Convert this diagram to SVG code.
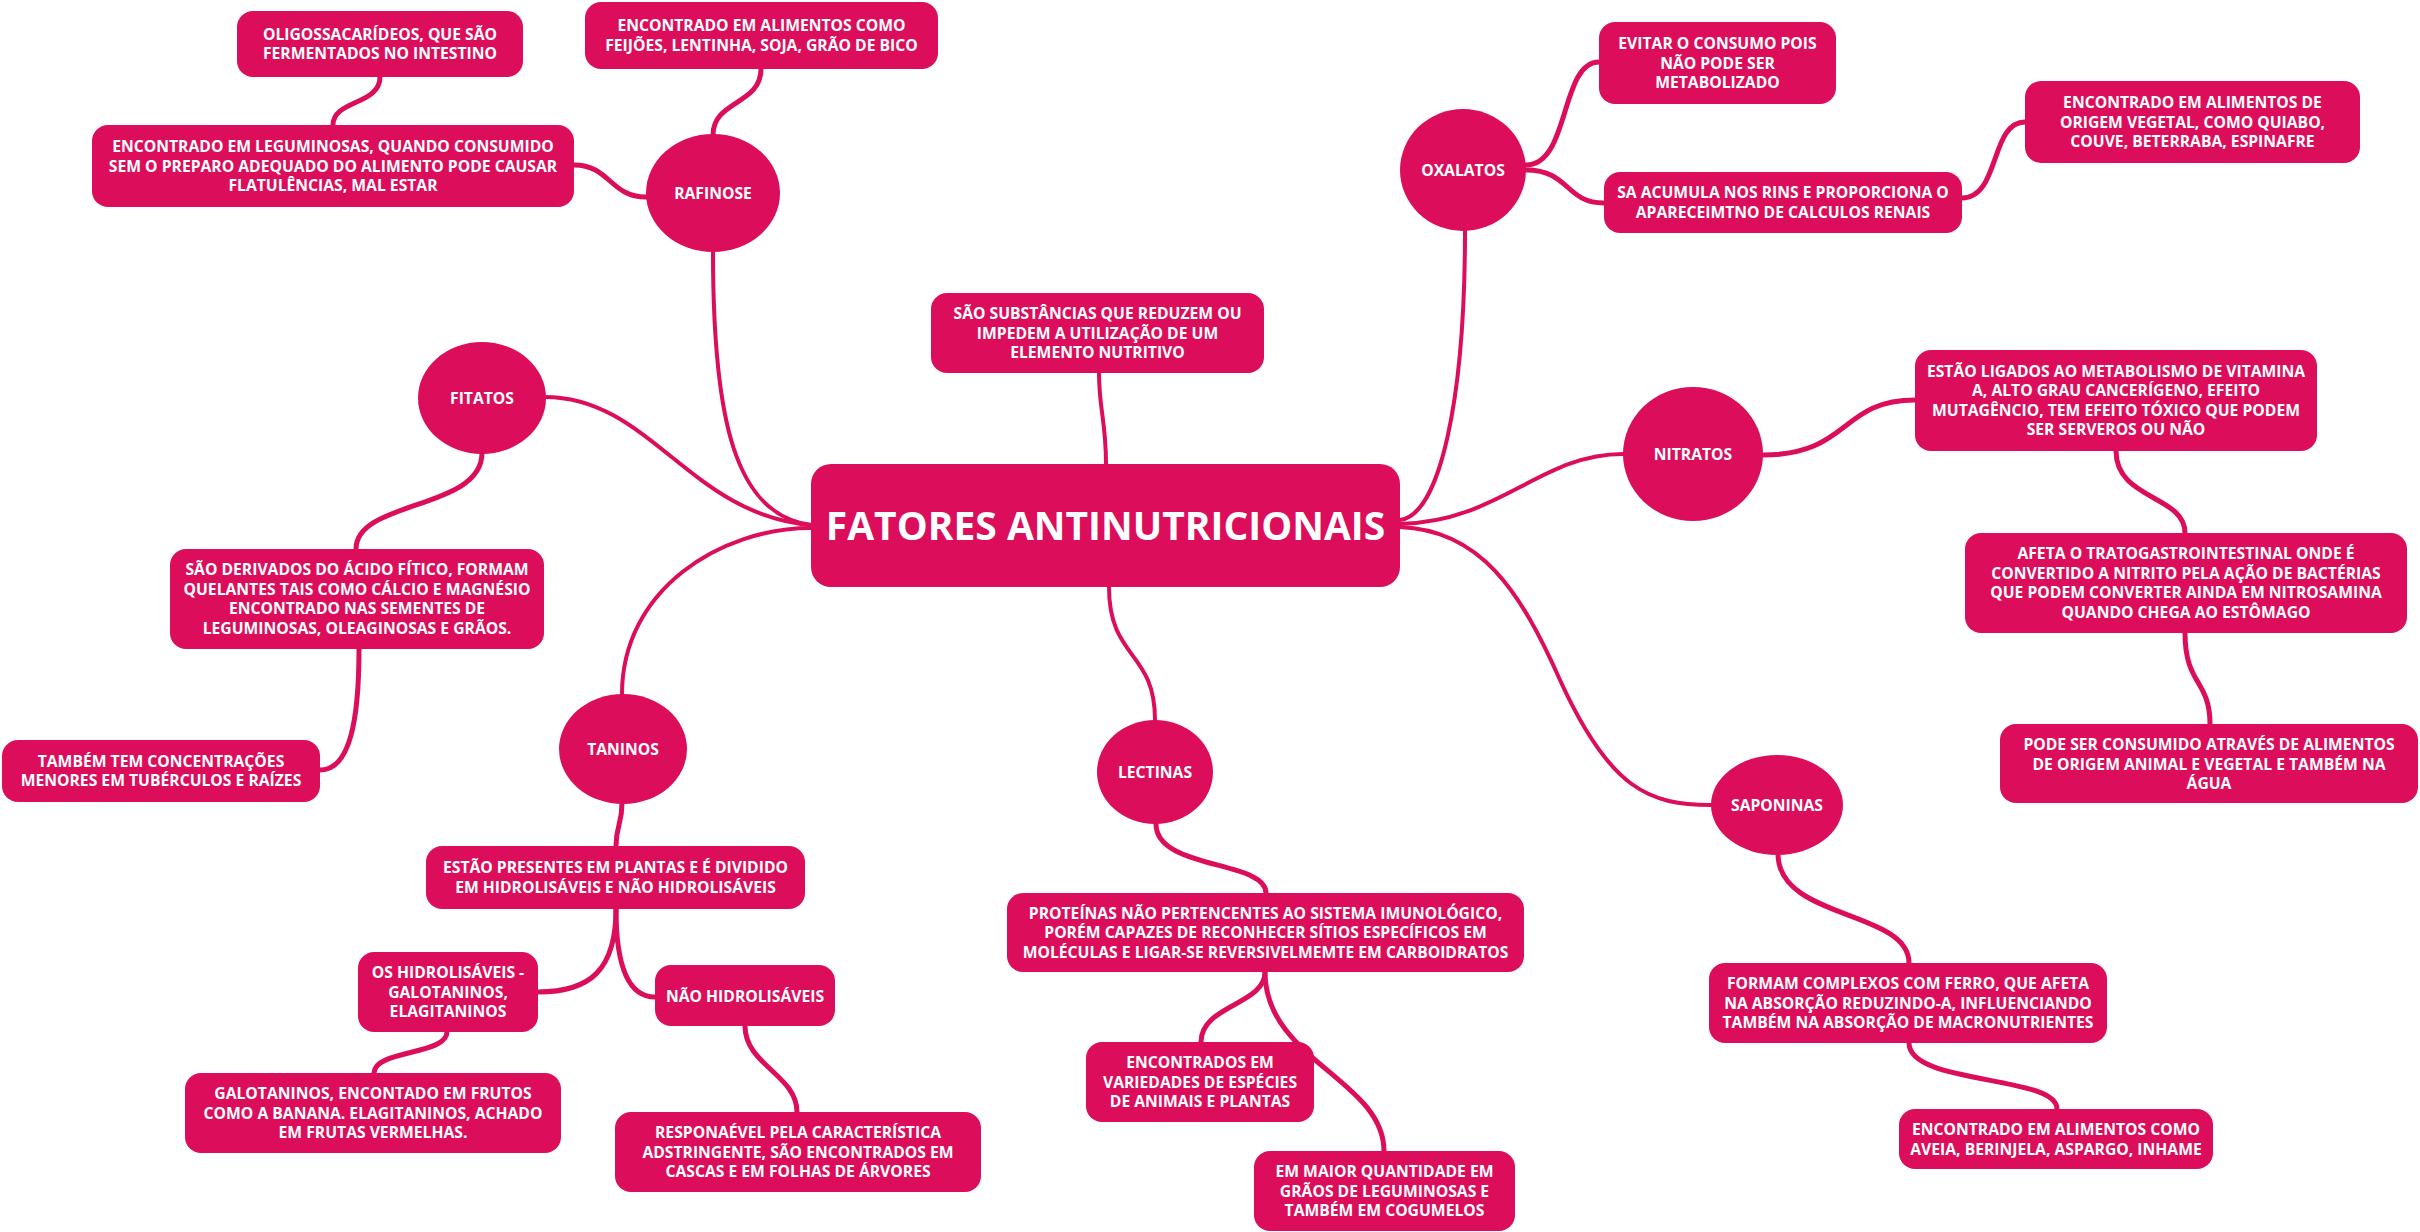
<svg xmlns="http://www.w3.org/2000/svg" width="2420" height="1232" viewBox="0 0 2420 1232">
<style>
.b{fill:#DC0D5A}
.t{fill:#fff;font-family:"Open Sans","Noto Sans","Liberation Sans",sans-serif;font-weight:bold;font-size:15.7px;text-anchor:middle}
.c{fill:none;stroke:#DC0D5A;stroke-linecap:round}
.m{stroke-width:4}
.s{stroke-width:5}
</style>
<rect width="2420" height="1232" fill="#fff"/>
<g id="connectors">
<path class="c m" d="M713 252 C713 420 735 515 811 525"/>
<path class="c m" d="M545 397 C650 397 690 515 811 525"/>
<path class="c m" d="M622 694 C622 590 720 528 811 528"/>
<path class="c m" d="M1106 464 C1106 420 1099 410 1099 373"/>
<path class="c m" d="M1109 587 C1109 660 1155 650 1155 720"/>
<path class="c m" d="M1465 231 C1465 400 1440 515 1400 520"/>
<path class="c m" d="M1623 454 C1540 454 1500 522 1400 524"/>
<path class="c m" d="M1400 527 C1480 530 1520 590 1560 680 C1610 790 1650 805 1711 805"/>
<path class="c s" d="M380 77 C380 105 333 100 333 125"/>
<path class="c s" d="M761 69 C761 105 713 100 713 135"/>
<path class="c s" d="M574 165 C610 165 610 197 646 197"/>
<path class="c s" d="M482 453 C482 510 356 500 356 549"/>
<path class="c s" d="M359 649 C359 720 350 770 320 770"/>
<path class="c s" d="M622 803 C622 825 616 825 616 846"/>
<path class="c s" d="M616 909 C616 970 590 992 538 992"/>
<path class="c s" d="M616 909 C616 970 630 997 655 997"/>
<path class="c s" d="M447 1032 C447 1055 374 1050 374 1073"/>
<path class="c s" d="M745 1026 C745 1065 797 1075 797 1112"/>
<path class="c s" d="M1156 824 C1156 870 1266 860 1266 893"/>
<path class="c s" d="M1265 972 C1265 1005 1201 1005 1201 1042"/>
<path class="c s" d="M1265 972 C1265 1060 1384 1080 1384 1151"/>
<path class="c s" d="M1526 165 C1570 165 1560 62 1599 62"/>
<path class="c s" d="M1526 170 C1570 170 1565 203 1604 203"/>
<path class="c s" d="M1962 198 C2000 198 1990 122 2025 122"/>
<path class="c s" d="M1763 455 C1850 455 1840 400 1915 400"/>
<path class="c s" d="M2116 451 C2116 500 2185 495 2185 533"/>
<path class="c s" d="M2185 633 C2185 685 2210 680 2210 724"/>
<path class="c s" d="M1778 854 C1778 920 1909 910 1909 963"/>
<path class="c s" d="M1909 1043 C1909 1085 2057 1075 2057 1109"/>
</g>
<g id="center"><rect class="b" x="811" y="464" width="589" height="123" rx="20"/><text class="t" style="font-size:39px" x="1105.5" y="540">FATORES ANTINUTRICIONAIS</text></g>
<g id="rafinose"><ellipse class="b" cx="713" cy="193" rx="67" ry="59"/><text class="t" x="713" y="198.5">RAFINOSE</text></g>
<g id="fitatos"><ellipse class="b" cx="482" cy="398" rx="64" ry="56"/><text class="t" x="482" y="403.5">FITATOS</text></g>
<g id="taninos"><ellipse class="b" cx="623" cy="749" rx="64" ry="55"/><text class="t" x="623" y="754.5">TANINOS</text></g>
<g id="lectinas"><ellipse class="b" cx="1155" cy="772" rx="58" ry="52"/><text class="t" x="1155" y="777.5">LECTINAS</text></g>
<g id="oxalatos"><ellipse class="b" cx="1463" cy="170" rx="63" ry="61"/><text class="t" x="1463" y="175.5">OXALATOS</text></g>
<g id="nitratos"><ellipse class="b" cx="1693" cy="454" rx="70" ry="67"/><text class="t" x="1693" y="459.5">NITRATOS</text></g>
<g id="saponinas"><ellipse class="b" cx="1777" cy="805" rx="66" ry="50"/><text class="t" x="1777" y="810.5">SAPONINAS</text></g>
<g id="oligo"><rect class="b" x="237" y="11" width="286" height="66" rx="16"/><text class="t" y="39.75"><tspan x="380">OLIGOSSACARÍDEOS, QUE SÃO</tspan><tspan x="380" dy="19.5">FERMENTADOS NO INTESTINO</tspan></text></g>
<g id="raf-alimentos"><rect class="b" x="585" y="2" width="353" height="67" rx="16"/><text class="t" y="31.25"><tspan x="761.5">ENCONTRADO EM ALIMENTOS COMO</tspan><tspan x="761.5" dy="19.5">FEIJÕES, LENTINHA, SOJA, GRÃO DE BICO</tspan></text></g>
<g id="raf-leguminosas"><rect class="b" x="92" y="125" width="482" height="82" rx="16"/><text class="t" y="152"><tspan x="333">ENCONTRADO EM LEGUMINOSAS, QUANDO CONSUMIDO</tspan><tspan x="333" dy="19.5">SEM O PREPARO ADEQUADO DO ALIMENTO PODE CAUSAR</tspan><tspan x="333" dy="19.5">FLATULÊNCIAS, MAL ESTAR</tspan></text></g>
<g id="definicao"><rect class="b" x="931" y="293" width="333" height="80" rx="16"/><text class="t" y="319"><tspan x="1097.5">SÃO SUBSTÂNCIAS QUE REDUZEM OU</tspan><tspan x="1097.5" dy="19.5">IMPEDEM A UTILIZAÇÃO DE UM</tspan><tspan x="1097.5" dy="19.5">ELEMENTO NUTRITIVO</tspan></text></g>
<g id="fit-derivados"><rect class="b" x="170" y="549" width="374" height="100" rx="16"/><text class="t" y="575.25"><tspan x="357">SÃO DERIVADOS DO ÁCIDO FÍTICO, FORMAM</tspan><tspan x="357" dy="19.5">QUELANTES TAIS COMO CÁLCIO E MAGNÉSIO</tspan><tspan x="357" dy="19.5">ENCONTRADO NAS SEMENTES DE</tspan><tspan x="357" dy="19.5">LEGUMINOSAS, OLEAGINOSAS E GRÃOS.</tspan></text></g>
<g id="fit-tambem"><rect class="b" x="2" y="740" width="318" height="62" rx="16"/><text class="t" y="766.75"><tspan x="161">TAMBÉM TEM CONCENTRAÇÕES</tspan><tspan x="161" dy="19.5">MENORES EM TUBÉRCULOS E RAÍZES</tspan></text></g>
<g id="tan-presentes"><rect class="b" x="426" y="846" width="379" height="63" rx="16"/><text class="t" y="873.25"><tspan x="615.5">ESTÃO PRESENTES EM PLANTAS E É DIVIDIDO</tspan><tspan x="615.5" dy="19.5">EM HIDROLISÁVEIS E NÃO HIDROLISÁVEIS</tspan></text></g>
<g id="tan-hidro"><rect class="b" x="358" y="952" width="180" height="80" rx="16"/><text class="t" y="978"><tspan x="448">OS HIDROLISÁVEIS -</tspan><tspan x="448" dy="19.5">GALOTANINOS,</tspan><tspan x="448" dy="19.5">ELAGITANINOS</tspan></text></g>
<g id="tan-nao-hidro"><rect class="b" x="655" y="965" width="180" height="61" rx="16"/><text class="t" x="745" y="1001.5">NÃO HIDROLISÁVEIS</text></g>
<g id="tan-galo"><rect class="b" x="185" y="1073" width="376" height="80" rx="16"/><text class="t" y="1099"><tspan x="373">GALOTANINOS, ENCONTADO EM FRUTOS</tspan><tspan x="373" dy="19.5">COMO A BANANA. ELAGITANINOS, ACHADO</tspan><tspan x="373" dy="19.5">EM FRUTAS VERMELHAS.</tspan></text></g>
<g id="tan-respon"><rect class="b" x="615" y="1112" width="366" height="80" rx="16"/><text class="t" y="1138"><tspan x="798">RESPONAÉVEL PELA CARACTERÍSTICA</tspan><tspan x="798" dy="19.5">ADSTRINGENTE, SÃO ENCONTRADOS EM</tspan><tspan x="798" dy="19.5">CASCAS E EM FOLHAS DE ÁRVORES</tspan></text></g>
<g id="lec-proteinas"><rect class="b" x="1007" y="893" width="517" height="79" rx="16"/><text class="t" y="918.5"><tspan x="1265.5">PROTEÍNAS NÃO PERTENCENTES AO SISTEMA IMUNOLÓGICO,</tspan><tspan x="1265.5" dy="19.5">PORÉM CAPAZES DE RECONHECER SÍTIOS ESPECÍFICOS EM</tspan><tspan x="1265.5" dy="19.5">MOLÉCULAS E LIGAR-SE REVERSIVELMEMTE EM CARBOIDRATOS</tspan></text></g>
<g id="lec-variedades"><rect class="b" x="1086" y="1042" width="228" height="80" rx="16"/><text class="t" y="1068"><tspan x="1200">ENCONTRADOS EM</tspan><tspan x="1200" dy="19.5">VARIEDADES DE ESPÉCIES</tspan><tspan x="1200" dy="19.5">DE ANIMAIS E PLANTAS</tspan></text></g>
<g id="lec-maior"><rect class="b" x="1254" y="1151" width="261" height="80" rx="16"/><text class="t" y="1177"><tspan x="1384.5">EM MAIOR QUANTIDADE EM</tspan><tspan x="1384.5" dy="19.5">GRÃOS DE LEGUMINOSAS E</tspan><tspan x="1384.5" dy="19.5">TAMBÉM EM COGUMELOS</tspan></text></g>
<g id="oxa-evitar"><rect class="b" x="1599" y="22" width="237" height="82" rx="16"/><text class="t" y="49"><tspan x="1717.5">EVITAR O CONSUMO POIS</tspan><tspan x="1717.5" dy="19.5">NÃO PODE SER</tspan><tspan x="1717.5" dy="19.5">METABOLIZADO</tspan></text></g>
<g id="oxa-acumula"><rect class="b" x="1604" y="172" width="358" height="61" rx="16"/><text class="t" y="198.25"><tspan x="1783">SA ACUMULA NOS RINS E PROPORCIONA O</tspan><tspan x="1783" dy="19.5">APARECEIMTNO DE CALCULOS RENAIS</tspan></text></g>
<g id="oxa-origem"><rect class="b" x="2025" y="81" width="335" height="82" rx="16"/><text class="t" y="108"><tspan x="2192.5">ENCONTRADO EM ALIMENTOS DE</tspan><tspan x="2192.5" dy="19.5">ORIGEM VEGETAL, COMO QUIABO,</tspan><tspan x="2192.5" dy="19.5">COUVE, BETERRABA, ESPINAFRE</tspan></text></g>
<g id="nit-ligados"><rect class="b" x="1915" y="350" width="402" height="101" rx="16"/><text class="t" y="376.75"><tspan x="2116">ESTÃO LIGADOS AO METABOLISMO DE VITAMINA</tspan><tspan x="2116" dy="19.5">A, ALTO GRAU CANCERÍGENO, EFEITO</tspan><tspan x="2116" dy="19.5">MUTAGÊNCIO, TEM EFEITO TÓXICO QUE PODEM</tspan><tspan x="2116" dy="19.5">SER SERVEROS OU NÃO</tspan></text></g>
<g id="nit-afeta"><rect class="b" x="1965" y="533" width="442" height="100" rx="16"/><text class="t" y="559.25"><tspan x="2186">AFETA O TRATOGASTROINTESTINAL ONDE É</tspan><tspan x="2186" dy="19.5">CONVERTIDO A NITRITO PELA AÇÃO DE BACTÉRIAS</tspan><tspan x="2186" dy="19.5">QUE PODEM CONVERTER AINDA EM NITROSAMINA</tspan><tspan x="2186" dy="19.5">QUANDO CHEGA AO ESTÔMAGO</tspan></text></g>
<g id="nit-pode"><rect class="b" x="2000" y="724" width="418" height="79" rx="16"/><text class="t" y="750"><tspan x="2209">PODE SER CONSUMIDO ATRAVÉS DE ALIMENTOS</tspan><tspan x="2209" dy="19.5">DE ORIGEM ANIMAL E VEGETAL E TAMBÉM NA</tspan><tspan x="2209" dy="19.5">ÁGUA</tspan></text></g>
<g id="sap-formam"><rect class="b" x="1709" y="963" width="398" height="80" rx="16"/><text class="t" y="989"><tspan x="1908">FORMAM COMPLEXOS COM FERRO, QUE AFETA</tspan><tspan x="1908" dy="19.5">NA ABSORÇÃO REDUZINDO-A, INFLUENCIANDO</tspan><tspan x="1908" dy="19.5">TAMBÉM NA ABSORÇÃO DE MACRONUTRIENTES</tspan></text></g>
<g id="sap-aveia"><rect class="b" x="1899" y="1109" width="314" height="60" rx="16"/><text class="t" y="1135.25"><tspan x="2056">ENCONTRADO EM ALIMENTOS COMO</tspan><tspan x="2056" dy="19.5">AVEIA, BERINJELA, ASPARGO, INHAME</tspan></text></g>
</svg>
